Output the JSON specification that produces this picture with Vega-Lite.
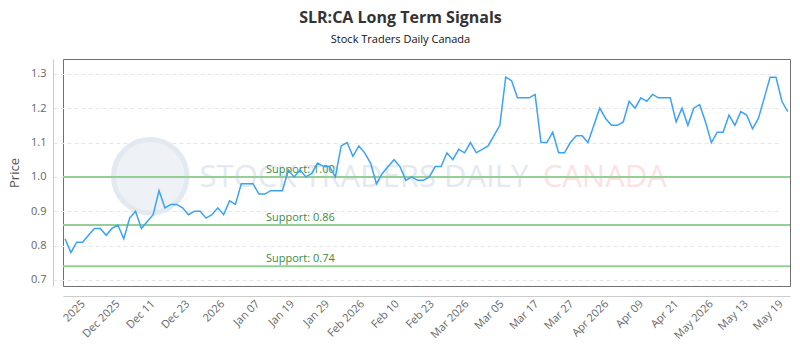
{
  "$schema": "https://vega.github.io/schema/vega-lite/v6.json",
  "width": 727,
  "height": 227,
  "autosize": {"type": "none"},
  "padding": {"left": 63, "top": 59, "right": 10, "bottom": 64},
  "background": "#ffffff",
  "title": {
    "text": "SLR:CA Long Term Signals",
    "subtitle": "Stock Traders Daily Canada",
    "anchor": "middle",
    "dx": -26,
    "offset": 14,
    "font": "Open Sans",
    "fontSize": 16,
    "fontWeight": "bold",
    "color": "#333333",
    "subtitleFont": "Open Sans",
    "subtitleFontSize": 11,
    "subtitleColor": "#111111",
    "subtitlePadding": 8
  },
  "config": {
    "view": {"stroke": "#707070", "strokeWidth": 1},
    "font": "Open Sans",
    "axis": {
      "labelOverlap": false,
      "labelFlush": false,
      "ticks": false,
      "offset": 10,
      "domainColor": "#cccccc",
      "domainWidth": 1,
      "labelFontSize": 11,
      "labelColor": "#666666"
    },
    "axisX": {
      "grid": false,
      "labelAngle": -45,
      "labelAlign": "right",
      "labelBaseline": "middle",
      "labelPadding": 6
    },
    "axisY": {
      "grid": true,
      "gridColor": "#e6e6e6",
      "gridDash": [4, 3],
      "gridWidth": 1,
      "labelPadding": 7,
      "titleFontSize": 13,
      "titleFontWeight": "normal",
      "titleColor": "#555555",
      "titlePadding": 9
    }
  },
  "datasets": {
    "prices": [
      {"session":0,"price":0.82},{"session":1,"price":0.78},{"session":2,"price":0.81},{"session":3,"price":0.81},
      {"session":4,"price":0.83},{"session":5,"price":0.85},{"session":6,"price":0.85},{"session":7,"price":0.83},
      {"session":8,"price":0.85},{"session":9,"price":0.86},{"session":10,"price":0.82},{"session":11,"price":0.88},
      {"session":12,"price":0.90},{"session":13,"price":0.85},{"session":14,"price":0.87},{"session":15,"price":0.89},
      {"session":16,"price":0.96},{"session":17,"price":0.91},{"session":18,"price":0.92},{"session":19,"price":0.92},
      {"session":20,"price":0.91},{"session":21,"price":0.89},{"session":22,"price":0.90},{"session":23,"price":0.90},
      {"session":24,"price":0.88},{"session":25,"price":0.89},{"session":26,"price":0.91},{"session":27,"price":0.89},
      {"session":28,"price":0.93},{"session":29,"price":0.92},{"session":30,"price":0.98},{"session":31,"price":0.98},
      {"session":32,"price":0.98},{"session":33,"price":0.95},{"session":34,"price":0.95},{"session":35,"price":0.96},
      {"session":36,"price":0.96},{"session":37,"price":0.96},{"session":38,"price":1.02},{"session":39,"price":1.00},
      {"session":40,"price":1.02},{"session":41,"price":1.00},{"session":42,"price":1.01},{"session":43,"price":1.04},
      {"session":44,"price":1.03},{"session":45,"price":1.03},{"session":46,"price":1.00},{"session":47,"price":1.09},
      {"session":48,"price":1.10},{"session":49,"price":1.06},{"session":50,"price":1.09},{"session":51,"price":1.07},
      {"session":52,"price":1.04},{"session":53,"price":0.98},{"session":54,"price":1.01},{"session":55,"price":1.03},
      {"session":56,"price":1.05},{"session":57,"price":1.03},{"session":58,"price":0.99},{"session":59,"price":1.00},
      {"session":60,"price":0.99},{"session":61,"price":0.99},{"session":62,"price":1.00},{"session":63,"price":1.03},
      {"session":64,"price":1.03},{"session":65,"price":1.07},{"session":66,"price":1.05},{"session":67,"price":1.08},
      {"session":68,"price":1.07},{"session":69,"price":1.10},{"session":70,"price":1.07},{"session":71,"price":1.08},
      {"session":72,"price":1.09},{"session":73,"price":1.12},{"session":74,"price":1.15},{"session":75,"price":1.29},
      {"session":76,"price":1.28},{"session":77,"price":1.23},{"session":78,"price":1.23},{"session":79,"price":1.23},
      {"session":80,"price":1.24},{"session":81,"price":1.10},{"session":82,"price":1.10},{"session":83,"price":1.13},
      {"session":84,"price":1.07},{"session":85,"price":1.07},{"session":86,"price":1.10},{"session":87,"price":1.12},
      {"session":88,"price":1.12},{"session":89,"price":1.10},{"session":90,"price":1.15},{"session":91,"price":1.20},
      {"session":92,"price":1.17},{"session":93,"price":1.15},{"session":94,"price":1.15},{"session":95,"price":1.16},
      {"session":96,"price":1.22},{"session":97,"price":1.20},{"session":98,"price":1.23},{"session":99,"price":1.22},
      {"session":100,"price":1.24},{"session":101,"price":1.23},{"session":102,"price":1.23},{"session":103,"price":1.23},
      {"session":104,"price":1.16},{"session":105,"price":1.20},{"session":106,"price":1.15},{"session":107,"price":1.20},
      {"session":108,"price":1.21},{"session":109,"price":1.16},{"session":110,"price":1.10},{"session":111,"price":1.13},
      {"session":112,"price":1.13},{"session":113,"price":1.18},{"session":114,"price":1.15},{"session":115,"price":1.19},
      {"session":116,"price":1.18},{"session":117,"price":1.14},{"session":118,"price":1.17},{"session":119,"price":1.23},
      {"session":120,"price":1.29},{"session":121,"price":1.29},{"session":122,"price":1.22},{"session":123,"price":1.19}
    ],
    "supports": [
      {"price": 1.00, "label": "Support: 1.00"},
      {"price": 0.86, "label": "Support: 0.86"},
      {"price": 0.74, "label": "Support: 0.74"}
    ],
    "brand": [
      {"session": 22.9, "price": 0.998, "text": "STOCK TRADERS DAILY", "tone": "grey"},
      {"session": 81.3, "price": 0.998, "text": "CANADA", "tone": "red"}
    ],
    "badge": [
      {"session": 14.5, "price": 1.002}
    ]
  },
  "layer": [
    {
      "data": {"name": "badge"},
      "mark": {"type": "point", "shape": "circle", "filled": true, "size": 5400, "fill": "#eef2f7", "stroke": "#e3e9f1", "strokeWidth": 5, "opacity": 1},
      "encoding": {
        "x": {"field": "session", "type": "quantitative", "scale": {"domain": [-0.34, 123.38], "nice": false, "zero": false}, "axis": {"title": null, "values": [3.06, 9.0, 14.94, 20.88, 26.82, 32.76, 38.7, 44.64, 50.58, 56.52, 62.45, 68.39, 74.33, 80.27, 86.21, 92.15, 98.09, 104.03, 109.97, 115.91, 121.85]}},
        "y": {"field": "price", "type": "quantitative", "scale": {"domain": [0.6825, 1.343], "nice": false, "zero": false}, "axis": {"title": "Price", "values": [0.7, 0.8, 0.9, 1.0, 1.1, 1.2, 1.3], "format": ".1f"}}
      }
    },
    {
      "data": {"name": "brand"},
      "mark": {"type": "text", "align": "left", "baseline": "middle", "fontSize": 31, "font": "Open Sans"},
      "encoding": {
        "x": {"field": "session", "type": "quantitative", "scale": {"domain": [-0.34, 123.38], "nice": false, "zero": false}, "axis": {"title": null, "values": [3.06, 9.0, 14.94, 20.88, 26.82, 32.76, 38.7, 44.64, 50.58, 56.52, 62.45, 68.39, 74.33, 80.27, 86.21, 92.15, 98.09, 104.03, 109.97, 115.91, 121.85]}},
        "y": {"field": "price", "type": "quantitative", "scale": {"domain": [0.6825, 1.343], "nice": false, "zero": false}, "axis": {"title": "Price", "values": [0.7, 0.8, 0.9, 1.0, 1.1, 1.2, 1.3], "format": ".1f"}},
        "text": {"field": "text"},
        "color": {"field": "tone", "type": "nominal", "scale": {"domain": ["grey", "red"], "range": ["#e4e9f0", "#fce2e2"]}, "legend": null}
      }
    },
    {
      "data": {"name": "supports"},
      "mark": {"type": "rule", "color": "#95cf95", "strokeWidth": 2},
      "encoding": {
        "y": {"field": "price", "type": "quantitative", "scale": {"domain": [0.6825, 1.343], "nice": false, "zero": false}, "axis": {"title": "Price", "values": [0.7, 0.8, 0.9, 1.0, 1.1, 1.2, 1.3], "format": ".1f"}}
      }
    },
    {
      "data": {"name": "supports"},
      "mark": {"type": "text", "align": "left", "baseline": "bottom", "dy": -2, "fontSize": 11, "color": "#3d8b3d"},
      "encoding": {
        "x": {"datum": 34.2, "type": "quantitative", "scale": {"domain": [-0.34, 123.38], "nice": false, "zero": false}, "axis": {"title": null, "values": [3.06, 9.0, 14.94, 20.88, 26.82, 32.76, 38.7, 44.64, 50.58, 56.52, 62.45, 68.39, 74.33, 80.27, 86.21, 92.15, 98.09, 104.03, 109.97, 115.91, 121.85]}},
        "y": {"field": "price", "type": "quantitative", "scale": {"domain": [0.6825, 1.343], "nice": false, "zero": false}, "axis": {"title": "Price", "values": [0.7, 0.8, 0.9, 1.0, 1.1, 1.2, 1.3], "format": ".1f"}},
        "text": {"field": "label"}
      }
    },
    {
      "data": {"name": "prices"},
      "mark": {"type": "line", "color": "#3aa3f5", "strokeWidth": 1.5},
      "encoding": {
        "x": {
          "field": "session", "type": "quantitative",
          "scale": {"domain": [-0.34, 123.38], "nice": false, "zero": false},
          "axis": {
            "title": null,
            "values": [3.06, 9.0, 14.94, 20.88, 26.82, 32.76, 38.7, 44.64, 50.58, 56.52, 62.45, 68.39, 74.33, 80.27, 86.21, 92.15, 98.09, 104.03, 109.97, 115.91, 121.85],
            "labelExpr": "['2025','Dec 2025','Dec 11','Dec 23','2026','Jan 07','Jan 19','Jan 29','Feb 2026','Feb 10','Feb 23','Mar 2026','Mar 05','Mar 17','Mar 27','Apr 2026','Apr 09','Apr 21','May 2026','May 13','May 19'][round((datum.value - 3.06) / 5.939)]"
          }
        },
        "y": {"field": "price", "type": "quantitative", "scale": {"domain": [0.6825, 1.343], "nice": false, "zero": false}, "axis": {"title": "Price", "values": [0.7, 0.8, 0.9, 1.0, 1.1, 1.2, 1.3], "format": ".1f"}}
      }
    }
  ]
}
